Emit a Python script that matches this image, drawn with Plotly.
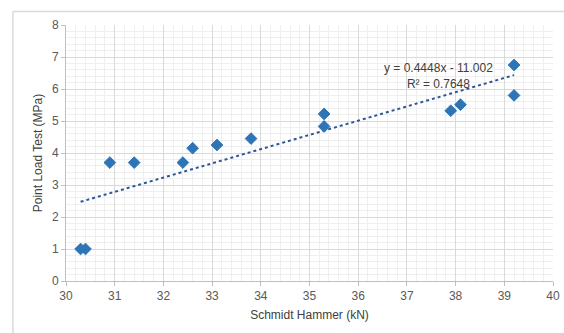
import numpy as np
import plotly.graph_objects as go

schmidt_kn = [30.3, 30.4, 30.9, 31.4, 32.4, 32.6, 33.1, 33.8, 35.3, 35.3, 37.9, 38.1, 39.2, 39.2]
point_load_mpa = [1.0, 1.0, 3.7, 3.7, 3.7, 4.15, 4.25, 4.45, 5.22, 4.83, 5.32, 5.51, 6.75, 5.8]
trend_slope = 0.4448
trend_intercept = -11.002
r_squared = 0.7648

x_ticks = [30, 31, 32, 33, 34, 35, 36, 37, 38, 39, 40]
y_ticks = [0, 1, 2, 3, 4, 5, 6, 7, 8]

FONT = "Liberation Sans"

tx = np.array([min(schmidt_kn), max(schmidt_kn)])
ty = trend_slope * tx + trend_intercept

fig = go.Figure()
fig.add_trace(go.Scatter(
    x=tx, y=ty, mode="lines",
    line=dict(color="#2f5597", width=2, dash="dot"),
    hoverinfo="skip", showlegend=False))
fig.add_trace(go.Scatter(
    x=schmidt_kn, y=point_load_mpa, mode="markers",
    marker=dict(symbol="diamond", size=9, color="#2e75b6",
                line=dict(color="#2e75b6", width=1)),
    showlegend=False))

fig.add_annotation(
    x=37.65, y=6.42, xref="x", yref="y",
    text=f"y = {trend_slope}x - {abs(trend_intercept):.3f}<br>R² = {r_squared}",
    showarrow=False, align="center",
    font=dict(family=FONT, size=12, color="#404040"))

axis_common = dict(
    showline=True, linecolor="#bfbfbf", linewidth=1,
    ticks="outside", ticklen=4, tickcolor="#bfbfbf",
    showgrid=True, gridcolor="#d9d9d9", gridwidth=1,
    zeroline=False, automargin=False,
    tickfont=dict(family=FONT, size=12, color="#595959"),
    minor=dict(showgrid=True, gridcolor="#efefef", gridwidth=1, dtick=0.2, ticks=""),
)

fig.update_xaxes(range=[30, 40], tickvals=x_ticks,
                 title=dict(text="Schmidt Hammer (kN)", standoff=8,
                            font=dict(family=FONT, size=12, color="#404040")),
                 mirror=False, **axis_common)
fig.update_yaxes(range=[0, 8], tickvals=y_ticks,
                 title=dict(text="Point Load Test (MPa)", standoff=6,
                            font=dict(family=FONT, size=12, color="#404040")),
                 **axis_common)

# outer chart-area border (top and left edges visible)
fig.add_shape(type="line", xref="paper", yref="paper", x0=-0.109, x1=1.03, y0=1.053, y1=1.053,
              line=dict(color="#d9d9d9", width=1.5))
fig.add_shape(type="line", xref="paper", yref="paper", x0=-0.109, x1=-0.109, y0=-0.21, y1=1.053,
              line=dict(color="#d9d9d9", width=1.5))

fig.update_layout(
    width=564, height=333,
    margin=dict(l=66, r=11, t=25, b=52),
    paper_bgcolor="white", plot_bgcolor="white",
    font=dict(family=FONT),
)

fig.write_html("out.html", post_script="document.body.style.margin='0';",
               config={"displayModeBar": False})
